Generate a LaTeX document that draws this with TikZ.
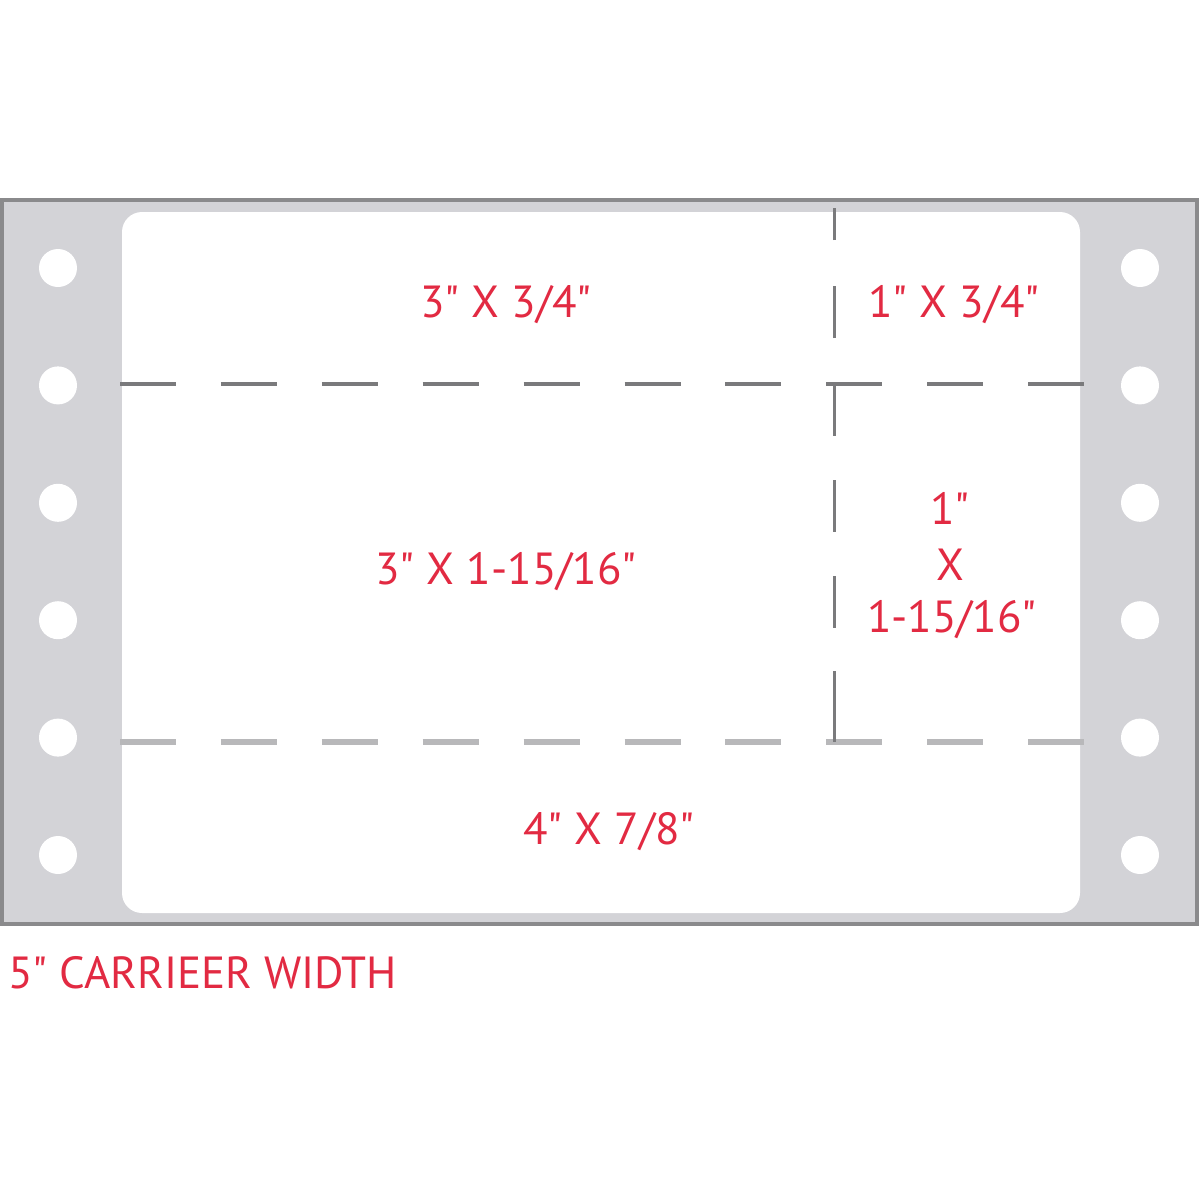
\documentclass[tikz,border=0pt]{standalone}
\usepackage{fontspec}
\newfontfamily\dimfont{PT Sans}
\definecolor{carrier}{RGB}{211,211,215}
\definecolor{frameline}{RGB}{138,138,140}
\definecolor{labelred}{RGB}{226,42,66}
\definecolor{perfdark}{RGB}{122,122,124}
\definecolor{perflight}{RGB}{184,184,186}
\tikzset{
  dimtext/.style={text=labelred, font=\dimfont\fontsize{45}{56}\selectfont, inner sep=0pt, align=center},
  hole/.style={fill=white, draw=none},
  perfh/.style={line width=4pt, dash pattern=on 56pt off 44.9pt},
}
\begin{document}
\begin{tikzpicture}[x=1pt,y=-1pt]
\useasboundingbox (0,0) rectangle (1200,1200);
\fill[white] (0,0) rectangle (1200,1200);
% carrier strip
\filldraw[fill=carrier, draw=frameline, line width=4pt] (2,200) rectangle (1197,924);
% label sheet
\fill[white, rounded corners=20pt] (122,212) rectangle (1080,913);
% pin-feed holes
\foreach \i in {0,...,5} {
  \fill[hole] (58,268+117.4*\i) circle (19);
  \fill[hole] (1140,268+117.4*\i) circle (19);
}
% perforation coordinates
\coordinate (tl) at (120,384);
\coordinate (tr) at (1084,384);
\coordinate (bl) at (120,742);
\coordinate (br) at (1084,742);
\coordinate (vtop) at (834,208);
\coordinate (vmid) at (834,384);
\coordinate (vbot) at (834,742);
% horizontal perforations
\draw[perfh, draw=perfdark, line width=3.5pt] (tl) -- (tr);
\draw[perfh, draw=perflight, line width=6pt] (bl) -- (br);
% vertical perforations
\draw[draw=perfdark, line width=3pt, dash pattern=on 52pt off 46pt, dash phase=52pt] (vmid) -- (vtop);
\draw[draw=perfdark, line width=3pt, dash pattern=on 52pt off 44pt on 52pt off 44pt on 52pt off 43pt on 80pt] (vmid) -- (vbot);
% labels
\node[dimtext] (a) at (506,305) {3" X 3/4"};
\node[dimtext] (b) at (954,305) {1" X 3/4"};
\node[dimtext] (c) at (506,572) {3" X 1-15/16"};
\node[dimtext] (d1) at (950,508) {1"};
\node[dimtext] (d2) at (950,565) {X};
\node[dimtext] (d3) at (952,620) {1-15/16"};
\node[dimtext] (e) at (609,832) {4" X 7/8"};
\node[dimtext, anchor=west] (f) at (8,973) {5" CARRIEER WIDTH};
\end{tikzpicture}
\end{document}
